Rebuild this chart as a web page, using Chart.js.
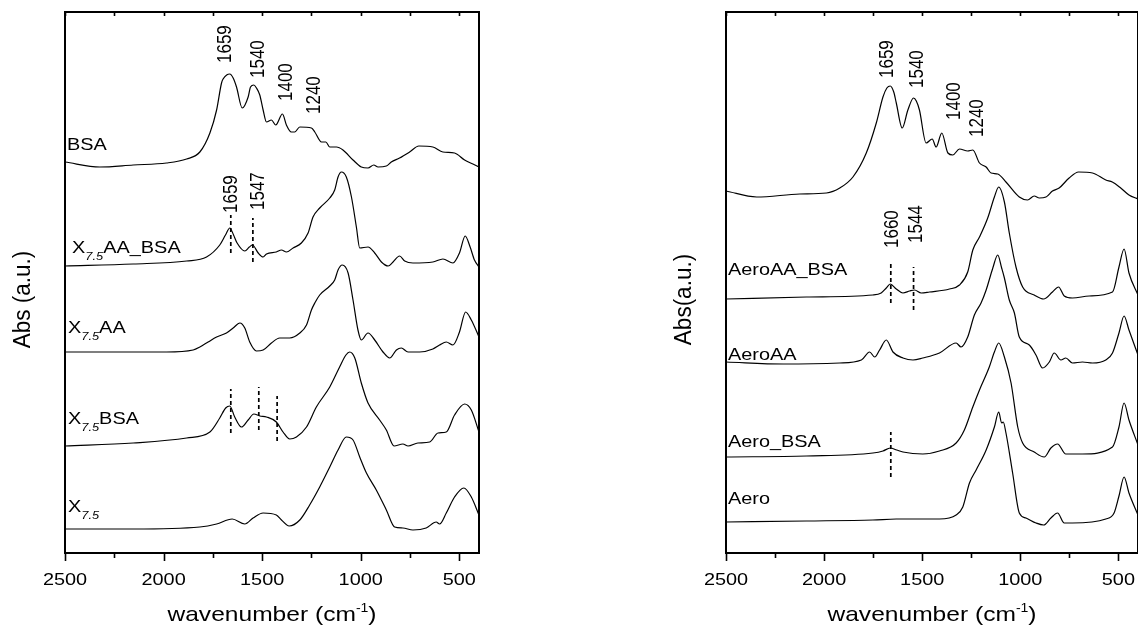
<!DOCTYPE html>
<html>
<head>
<meta charset="utf-8">
<script src="https://cdn.jsdelivr.net/npm/chart.js@4.4.0/dist/chart.umd.min.js"></script>
<style>
  html, body { margin: 0; padding: 0; background: #fff; }
  canvas { position: absolute; top: 0; }
</style>
</head>
<body>
<canvas id="leftPanel" width="569" height="632" style="left:0"></canvas>
<canvas id="rightPanel" width="569" height="632" style="left:569px"></canvas>
<script>
// x axis: wavenumber, reversed
const xTicks = [2500, 2250, 2000, 1750, 1500, 1250, 1000, 750, 500];
const xTickLabels = [2500, 2000, 1500, 1000, 500];

// spectra, [wavenumber, absorbance (offset, a.u.)]
const leftBsa = [[2500,391],[2323,386],[2154,388],[1985,390],[1883,394],[1816,401],[1765,420],[1731,443],[1706,470],[1698,474],[1680,478],[1664,479],[1647,475],[1630,466],[1601,445],[1571,456],[1559,466],[1542,468],[1529,465],[1512,458],[1495,443],[1478,431],[1453,433],[1431,428],[1397,439],[1377,428],[1352,421],[1335,421],[1309,426],[1250,425],[1233,421],[1199,411],[1177,411],[1157,406],[1123,406],[1090,403],[1039,393],[997,386],[963,385],[934,388],[912,386],[870,387],[845,391],[803,395],[752,401],[705,407],[634,406],[583,401],[524,400],[473,393],[431,389],[400,386]];
const leftAaBsa = [[2500,287],[2154,289],[1883,292],[1782,296],[1715,308],[1686,318],[1664,325],[1645,318],[1627,310],[1588,302],[1565,306],[1549,308],[1520,300],[1495,296],[1478,299],[1428,301],[1402,303],[1377,301],[1343,305],[1301,310],[1267,320],[1242,336],[1208,345],[1157,355],[1132,363],[1115,376],[1098,381],[1073,376],[1047,356],[1022,326],[1005,305],[963,306],[929,300],[895,291],[861,287],[836,291],[803,297],[777,292],[735,290],[634,291],[583,294],[532,290],[499,300],[470,317],[445,306],[423,293],[400,286]];
const leftAa = [[2500,201],[1985,201],[1850,203],[1816,206],[1774,211],[1731,216],[1681,220],[1647,225],[1613,230],[1588,225],[1563,211],[1529,202],[1495,203],[1453,210],[1411,215],[1360,215],[1309,220],[1275,228],[1250,243],[1233,250],[1208,258],[1157,267],[1132,273],[1115,283],[1094,288],[1064,280],[1039,253],[1014,223],[997,213],[963,220],[929,213],[887,201],[853,195],[819,203],[794,205],[760,201],[701,201],[634,204],[600,208],[566,211],[532,208],[499,221],[468,241],[439,233],[400,216]];
const leftXBsa = [[2500,107],[2154,110],[1883,115],[1765,121],[1715,135],[1685,145],[1664,147],[1639,136],[1605,126],[1571,133],[1542,139],[1512,137],[1478,136],[1428,131],[1394,121],[1360,114],[1326,116],[1275,126],[1225,146],[1157,166],[1107,186],[1075,198],[1056,201],[1030,195],[997,170],[963,150],[904,133],[870,123],[831,107],[786,109],[760,107],[710,110],[650,111],[608,120],[566,121],[524,138],[473,149],[439,143],[400,121]];
const leftX = [[2500,24],[2154,24],[1816,26],[1731,29],[1652,34],[1588,29],[1546,35],[1495,40],[1428,38],[1402,33],[1363,27],[1309,33],[1259,48],[1208,66],[1157,86],[1115,103],[1073,116],[1039,113],[1005,96],[971,80],[921,63],[870,43],[828,26],[786,25],[735,23],[668,25],[617,31],[600,29],[566,40],[524,56],[477,65],[439,56],[400,38]];

const rightBsa = [[2500,362],[2344,356],[2124,359],[1988,360],[1920,365],[1853,376],[1785,400],[1734,430],[1700,456],[1680,465],[1663,467],[1645,461],[1632,450],[1602,425],[1573,443],[1544,455],[1530,452],[1514,443],[1480,410],[1449,414],[1429,406],[1400,420],[1369,400],[1344,398],[1310,404],[1268,402],[1242,403],[1208,390],[1174,386],[1149,380],[1115,379],[1073,371],[1005,356],[963,353],[929,357],[903,355],[869,356],[836,362],[802,365],[751,375],[703,381],[632,380],[564,373],[531,371],[488,365],[446,358],[400,354]];
const rightAaBsa = [[2500,254],[2090,256],[1751,258],[1709,260],[1683,265],[1663,269],[1632,264],[1598,260],[1564,262],[1539,263],[1505,260],[1463,261],[1361,264],[1310,268],[1268,281],[1242,303],[1208,316],[1166,335],[1132,356],[1110,366],[1081,351],[1056,320],[1022,286],[988,266],[929,258],[881,254],[836,261],[805,266],[776,257],[734,255],[649,257],[530,261],[497,286],[471,304],[446,280],[400,258]];
const rightAa = [[2500,191],[2208,189],[1920,190],[1810,193],[1768,201],[1742,196],[1717,203],[1683,213],[1649,201],[1598,195],[1547,193],[1497,195],[1412,200],[1327,210],[1302,206],[1268,216],[1234,238],[1200,250],[1174,263],[1140,285],[1115,298],[1095,285],[1081,275],[1056,253],[1030,240],[1005,216],[954,208],[920,198],[886,185],[852,191],[827,200],[793,193],[768,195],[734,190],[683,191],[632,190],[564,193],[530,200],[497,220],[471,237],[446,223],[400,198]];
const rightAeroBsa = [[2500,96],[2090,97],[1751,100],[1700,102],[1663,105],[1630,103],[1598,101],[1497,99],[1412,102],[1327,110],[1285,123],[1242,146],[1208,163],[1158,186],[1132,201],[1110,210],[1081,196],[1047,170],[1013,126],[988,110],[929,101],[878,96],[844,105],[810,109],[768,99],[683,99],[530,106],[497,126],[471,150],[446,133],[400,108]];
const rightAero = [[2500,31],[2090,32],[1751,33],[1632,34],[1412,34],[1327,38],[1293,46],[1259,70],[1225,83],[1174,103],[1132,126],[1110,141],[1095,130],[1087,131],[1073,120],[1039,80],[1005,40],[971,35],[920,30],[881,28],[844,35],[810,40],[776,30],[734,30],[564,34],[522,40],[497,57],[471,76],[446,60],[400,38]];

// dashed band markers: [wavenumber, from, to]
const leftMarkers = [[1659,300,338],[1547,291,335],[1659,120,164],[1517,123,166],[1424,112,157]];
const rightMarkers = [[1660,250,291],[1544,243,286],[1660,76,121]];

// curve names: [parts (odd = subscript), wavenumber, baseline]
const leftNames = [[['BSA'],2490,403],[['X','7.5','AA_BSA'],2464,300],[['X','7.5','AA'],2485,220],[['X','7.5','BSA'],2485,129],[['X','7.5'],2485,41]];
const rightNames = [[['AeroAA_BSA'],2490,278],[['AeroAA'],2490,193],[['Aero_BSA'],2490,106],[['Aero'],2490,49]];

// band assignments, written vertically: [text, wavenumber, bottom]
const leftPeaks = [['1659',1684,490],['1540',1517,475],['1400',1375,452],['1240',1233,439],['1659',1654,340],['1547',1517,343]];
const rightPeaks = [['1659',1676,475],['1540',1523,465],['1400',1335,433],['1240',1218,416],['1660',1651,305],['1544',1529,310]];

const FONT = '"Liberation Sans", Arial, sans-serif';
const STRETCH = 1.17;

function drawText(ctx, text, x, y, size, opts = {}) {
    const sx = opts.stretch === undefined ? STRETCH : opts.stretch;
    ctx.save();
    ctx.translate(x, y);
    ctx.scale(sx, 1);
    if (opts.rotate) ctx.rotate(-Math.PI / 2);
    ctx.font = `${opts.italic ? 'italic ' : ''}${size}px ${FONT}`;
    ctx.fillStyle = '#000';
    ctx.textAlign = opts.align || 'left';
    ctx.textBaseline = opts.baseline || 'alphabetic';
    ctx.fillText(text, 0, 0);
    const w = ctx.measureText(text).width * sx;
    ctx.restore();
    return w;
}

function textWidth(ctx, text, size) {
    ctx.save();
    ctx.font = `${size}px ${FONT}`;
    const w = ctx.measureText(text).width * STRETCH;
    ctx.restore();
    return w;
}

const decorations = {
    id: 'decorations',
    afterDraw(chart, args, opts) {
        const { ctx, chartArea: area } = chart;
        const xs = chart.scales.x;
        const ys = chart.scales.y;

        // frame
        ctx.save();
        ctx.strokeStyle = '#000';
        ctx.lineWidth = 2;
        ctx.strokeRect(area.left, area.top, area.right - area.left, area.bottom - area.top);

        // ticks: outward at the bottom, inward at the top
        ctx.lineWidth = 1.6;
        ctx.beginPath();
        xTicks.forEach((v) => {
            const x = Math.round(xs.getPixelForValue(v)) + 0.5;
            const len = v % 500 === 0 ? 8 : 5;
            ctx.moveTo(x, area.bottom);
            ctx.lineTo(x, area.bottom + len);
            ctx.moveTo(x, area.top);
            ctx.lineTo(x, area.top + 4);
        });
        ctx.stroke();
        ctx.restore();

        xTickLabels.forEach((v) => {
            drawText(ctx, String(v), xs.getPixelForValue(v), area.bottom + 32, 17, { align: 'center' });
        });

        // x title with superscript
        const cx = (area.left + area.right) / 2;
        const main = 'wavenumber (cm';
        const total = textWidth(ctx, main, 21) + textWidth(ctx, '-1', 12) + textWidth(ctx, ')', 21);
        let tx = cx - total / 2;
        tx += drawText(ctx, main, tx, area.bottom + 68, 21);
        tx += drawText(ctx, '-1', tx, area.bottom + 59, 12);
        drawText(ctx, ')', tx, area.bottom + 68, 21);

        // y title
        drawText(ctx, opts.yTitle, area.left - opts.yTitleGap, (area.top + area.bottom) / 2 + 17, 22.5,
            { rotate: true, align: 'center', baseline: 'middle', stretch: 1.05 });

        // curve names
        opts.names.forEach(([parts, wn, v]) => {
            let x = xs.getPixelForValue(wn);
            const y = ys.getPixelForValue(v);
            parts.forEach((p, i) => {
                if (i % 2 === 1) {
                    x += drawText(ctx, p, x, y + 7, 11, { italic: true });
                } else {
                    x += drawText(ctx, p, x, y, 17);
                }
            });
        });

        // band positions
        opts.peaks.forEach(([text, wn, v]) => {
            drawText(ctx, text, xs.getPixelForValue(wn), ys.getPixelForValue(v), 17,
                { rotate: true, align: 'left', baseline: 'middle' });
        });
    }
};

function spectrum(points) {
    return {
        data: points.map(([x, y]) => ({ x, y })),
        borderColor: '#000',
        borderWidth: 1.2,
        pointRadius: 0,
        cubicInterpolationMode: 'monotone',
        fill: false
    };
}

function marker([wn, from, to]) {
    return {
        data: [{ x: wn, y: from }, { x: wn, y: to }],
        borderColor: '#000',
        borderWidth: 1.7,
        borderDash: [4, 3],
        pointRadius: 0,
        tension: 0,
        fill: false
    };
}

function drawPanel(id, curves, markers, names, peaks, yTitle, padLeft, padRight, yTitleGap) {
    new Chart(document.getElementById(id), {
        type: 'line',
        data: {
            datasets: [...curves.map(spectrum), ...markers.map(marker)]
        },
        options: {
            responsive: false,
            animation: false,
            devicePixelRatio: 1,
            layout: { padding: { left: padLeft, right: padRight, top: 12, bottom: 79 } },
            plugins: {
                legend: { display: false },
                tooltip: { enabled: false },
                decorations: { yTitle, names, peaks, yTitleGap }
            },
            scales: {
                x: { type: 'linear', reverse: true, min: 400, max: 2500, display: false },
                y: { min: 0, max: 541, display: false }
            }
        },
        plugins: [decorations]
    });
}

drawPanel('leftPanel', [leftBsa, leftAaBsa, leftAa, leftXBsa, leftX], leftMarkers,
    leftNames, leftPeaks, 'Abs (a.u.)', 65, 90, 42);
drawPanel('rightPanel', [rightBsa, rightAaBsa, rightAa, rightAeroBsa, rightAero], rightMarkers,
    rightNames, rightPeaks, 'Abs(a.u.)', 157, 0, 42);
</script>
</body>
</html>
